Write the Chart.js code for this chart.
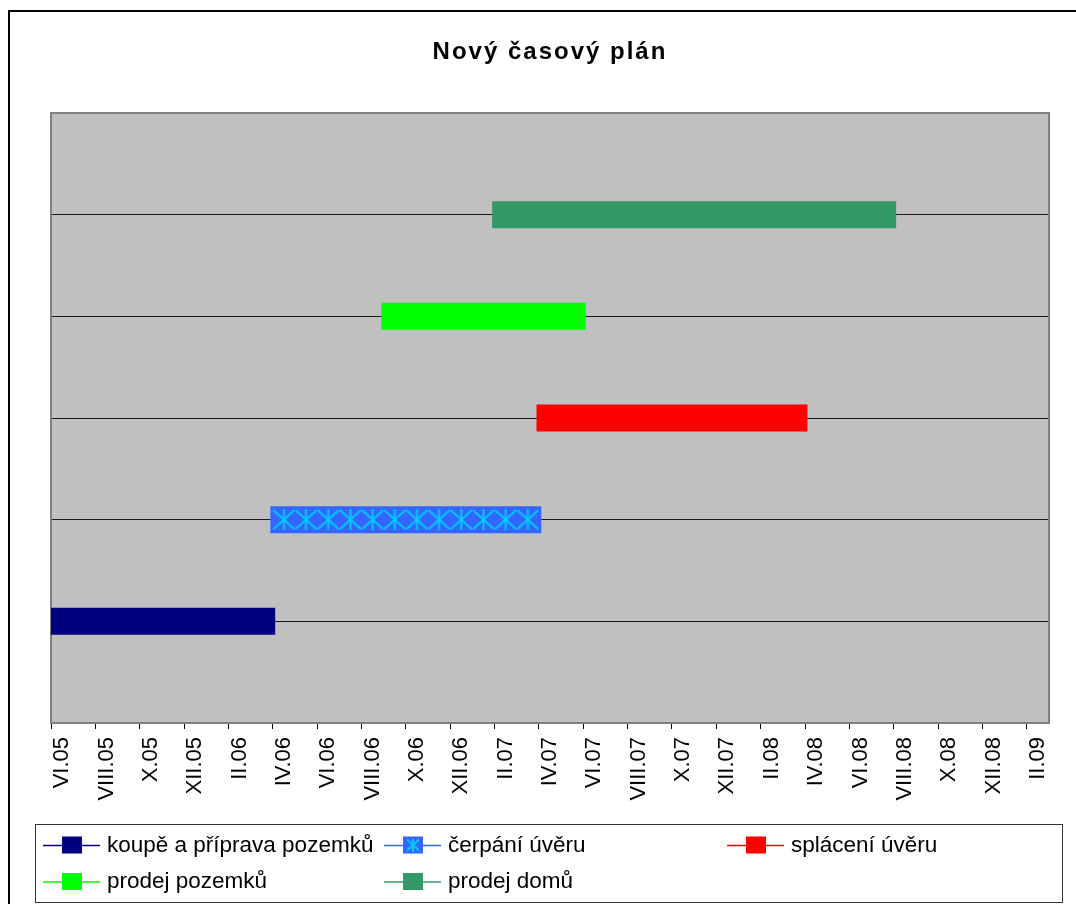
<!DOCTYPE html>
<html lang="cs">
<head>
    <meta charset="UTF-8">
    <title>Nový časový plán</title>
    <script src="https://cdn.jsdelivr.net/npm/chart.js"></script>
    <style>
        html, body { margin: 0; padding: 0; background: #fff; overflow: hidden; }
        #wrap { position: relative; width: 1076px; height: 904px; }
    </style>
</head>
<body>
    <div id="wrap">
        <canvas id="planChart" width="1076" height="904"></canvas>
    </div>
    <script>
        // Osa x - jednotlive mesice (popisek je jen u kazdeho druheho)
        const mesice = [
            'VI.05', 'VII.05', 'VIII.05', 'IX.05', 'X.05', 'XI.05', 'XII.05',
            'I.06', 'II.06', 'III.06', 'IV.06', 'V.06', 'VI.06', 'VII.06', 'VIII.06', 'IX.06', 'X.06', 'XI.06', 'XII.06',
            'I.07', 'II.07', 'III.07', 'IV.07', 'V.07', 'VI.07', 'VII.07', 'VIII.07', 'IX.07', 'X.07', 'XI.07', 'XII.07',
            'I.08', 'II.08', 'III.08', 'IV.08', 'V.08', 'VI.08', 'VII.08', 'VIII.08', 'IX.08', 'X.08', 'XI.08', 'XII.08',
            'I.09', 'II.09'
        ];

        // Jednotlive cinnosti
        const nazvy = ['koupě a příprava pozemků', 'čerpání úvěru', 'splácení úvěru', 'prodej pozemků', 'prodej domů'];
        const urovne = [1, 2, 3, 4, 5];
        const zacatky = ['VI.05', 'IV.06', 'IV.07', 'IX.06', 'II.07'];
        const konce = ['III.06', 'III.07', 'III.08', 'V.07', 'VII.08'];

        const nadpisText = 'Nový časový plán';
        const barvy = ['#000080', '#3366FF', '#FF0000', '#00FF00', '#339966'];
        const FONT = "'Liberation Sans', Arial, sans-serif";

        // znacka "hvezdicka" pro cerpani uveru
        function hvezdicka(w, h, barva) {
            const c = document.createElement('canvas');
            c.width = w;
            c.height = h;
            const g = c.getContext('2d');
            g.strokeStyle = barva;
            g.lineWidth = 2;
            g.beginPath();
            g.moveTo(1, 1); g.lineTo(w - 1, h - 1);
            g.moveTo(w - 1, 1); g.lineTo(1, h - 1);
            g.moveTo(w / 2, 0); g.lineTo(w / 2, h);
            g.stroke();
            return c;
        }
        const hvezdaVelka = hvezdicka(23, 21, '#00CCFF');
        const hvezdaMala = hvezdicka(14, 13, '#00CCFF');

        const datasety = nazvy.map((nazev, i) => {
            const od = mesice.indexOf(zacatky[i]);
            const doo = mesice.indexOf(konce[i]);
            return {
                label: nazev,
                data: mesice.slice(od, doo + 1).map(m => ({ x: m, y: urovne[i] })),
                borderColor: barvy[i],
                backgroundColor: barvy[i],
                borderWidth: 27,
                borderCapStyle: 'square',
                pointRadius: i === 1 ? 10 : 0,
                pointHoverRadius: i === 1 ? 10 : 0,
                pointBorderWidth: 0,
                pointStyle: i === 1 ? hvezdaVelka : 'circle',
                clip: 0
            };
        });

        // sede pozadi plochy grafu + ramecek
        const pozadi = {
            id: 'pozadi',
            beforeDraw(chart) {
                const { ctx, chartArea: a } = chart;
                ctx.save();
                ctx.fillStyle = '#fff';
                ctx.fillRect(0, 0, chart.width, chart.height);
                ctx.fillStyle = '#000';
                ctx.fillRect(8, 10, chart.width, 2);
                ctx.fillRect(8, 10, 2, chart.height);
                ctx.fillStyle = '#C0C0C0';
                ctx.fillRect(a.left, a.top, a.right - a.left, a.bottom - a.top);
                ctx.restore();
            },
            beforeDatasetsDraw(chart) {
                const { ctx, chartArea: a } = chart;
                ctx.save();
                ctx.strokeStyle = '#808080';
                ctx.lineWidth = 2;
                ctx.strokeRect(a.left, a.top, a.right - a.left, a.bottom - a.top);
                ctx.restore();
            }
        };

        const nadpis = {
            id: 'nadpis',
            afterDraw(chart) {
                const { ctx, chartArea: a } = chart;
                ctx.save();
                ctx.font = 'bold 24px ' + FONT;
                ctx.letterSpacing = '2px';
                ctx.fillStyle = '#000';
                ctx.textAlign = 'center';
                ctx.textBaseline = 'middle';
                ctx.fillText(nadpisText, (a.left + a.right) / 2, 52);
                ctx.restore();
            }
        };

        // legenda ve trech sloupcich jako v Excelu
        const legenda = {
            id: 'legenda',
            afterDraw(chart) {
                const ctx = chart.ctx;
                const sloupce = [43, 384, 727];
                const radky = [845.5, 882];
                ctx.save();
                ctx.fillStyle = '#fff';
                ctx.fillRect(36, 825, 1026, 77);
                ctx.strokeStyle = '#333';
                ctx.lineWidth = 1;
                ctx.strokeRect(35.5, 824.5, 1027, 78);
                ctx.font = '22.5px ' + FONT;
                ctx.textBaseline = 'middle';
                chart.data.datasets.forEach((ds, i) => {
                    const x = sloupce[i % 3];
                    const y = radky[Math.floor(i / 3)];
                    ctx.strokeStyle = ds.borderColor;
                    ctx.lineWidth = 1.5;
                    ctx.beginPath();
                    ctx.moveTo(x, y);
                    ctx.lineTo(x + 57, y);
                    ctx.stroke();
                    ctx.fillStyle = ds.borderColor;
                    ctx.fillRect(x + 19, y - 9, 20, 17);
                    if (ds.pointRadius > 0) {
                        ctx.drawImage(hvezdaMala, x + 29 - hvezdaMala.width / 2, y - 0.5 - hvezdaMala.height / 2);
                    }
                    ctx.fillStyle = '#000';
                    ctx.fillText(ds.label, x + 64, y);
                });
                ctx.restore();
            }
        };

        new Chart(document.getElementById('planChart'), {
            type: 'line',
            data: { labels: mesice, datasets: datasety },
            options: {
                responsive: false,
                animation: false,
                events: [],
                layout: {
                    autoPadding: false,
                    padding: { left: 51, right: 27, top: 113, bottom: 81 }
                },
                plugins: {
                    legend: { display: false },
                    title: { display: false },
                    tooltip: { enabled: false }
                },
                scales: {
                    x: {
                        type: 'category',
                        offset: true,
                        grid: {
                            offset: true,
                            drawOnChartArea: false,
                            drawTicks: true,
                            tickLength: 6,
                            lineWidth: 1,
                            color: c => (c.index !== undefined && c.index % 2 === 0) ? '#000' : 'rgba(0,0,0,0)'
                        },
                        border: { color: '#505050', width: 1 },
                        ticks: {
                            autoSkip: false,
                            minRotation: 90,
                            maxRotation: 90,
                            padding: 8,
                            color: '#000',
                            font: { family: FONT, size: 22 },
                            callback: (v, i) => i % 2 === 0 ? mesice[i] : ''
                        },
                        afterFit: s => {
                            s.height = 100;
                            s.paddingLeft = 0;
                            s.paddingRight = 0;
                        }
                    },
                    y: {
                        min: 0,
                        max: 6,
                        ticks: { stepSize: 1, display: false },
                        grid: {
                            drawTicks: false,
                            color: c => (c.tick && c.tick.value >= 1 && c.tick.value <= 5) ? '#1a1a1a' : 'rgba(0,0,0,0)'
                        },
                        border: { display: false },
                        afterFit: s => { s.width = 0; }
                    }
                }
            },
            plugins: [pozadi, nadpis, legenda]
        });
    </script>
</body>
</html>
